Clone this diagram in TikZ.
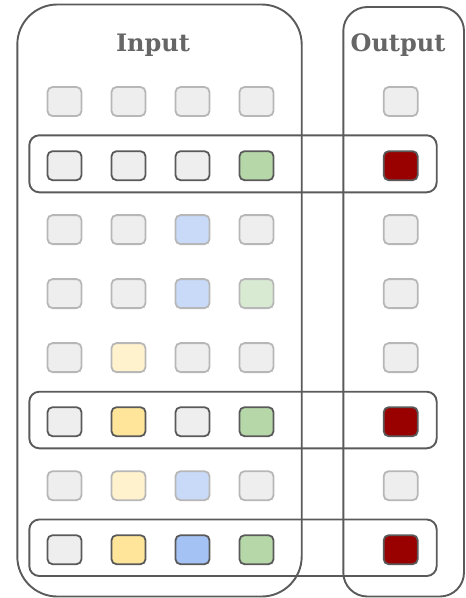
\documentclass[tikz,border=0pt]{standalone}
\usepackage{fontspec}
\newfontfamily\hfont{DejaVu Serif}
\definecolor{lg}{HTML}{EEEEEE}
\definecolor{lbl}{HTML}{C9DAF8}
\definecolor{lgr}{HTML}{D9EAD3}
\definecolor{lye}{HTML}{FFF2CC}
\definecolor{dgr}{HTML}{B6D7A8}
\definecolor{dye}{HTML}{FFE599}
\definecolor{dbl}{HTML}{A4C2F4}
\definecolor{dre}{HTML}{990000}
\definecolor{lbd}{HTML}{B7B7B7}
\definecolor{dbd}{HTML}{5A5A5A}
\definecolor{txt}{HTML}{666666}
\tikzset{
  cell/.style={rounded corners=5pt, minimum width=34pt, minimum height=29pt, line width=1.8pt, inner sep=0pt},
  faint/.style={cell, draw=lbd},
  bold/.style={cell, draw=dbd},
  frame/.style={draw=dbd, line width=1.9pt},
  title/.style={text=txt, font=\hfont\bfseries\fontsize{24}{28}\selectfont}
}
\begin{document}
\begin{tikzpicture}[x=1pt,y=-1pt]
\useasboundingbox (0,0) rectangle (466,598);
% frames
\draw[frame, rounded corners=40pt] (17.3,4.5) rectangle (301.7,596.5);
\draw[frame, rounded corners=24pt] (343.3,7) rectangle (464,596.5);
\draw[frame, rounded corners=10pt] (29.3,135.3) rectangle (436.7,192.3);
\draw[frame, rounded corners=10pt] (29.3,391.7) rectangle (436.7,448.3);
\draw[frame, rounded corners=10pt] (29.3,519.5) rectangle (436.7,576);
% titles
\node[title] (tin) at (153,45) {Input};
\node[title] (tout) at (398,45) {Output};
% row 1
\node[faint, fill=lg] (r1c1) at (64.5,101.5) {};
\node[faint, fill=lg] (r1c2) at (128.5,101.5) {};
\node[faint, fill=lg] (r1c3) at (192.5,101.5) {};
\node[faint, fill=lg] (r1c4) at (256.5,101.5) {};
\node[faint, fill=lg] (r1o) at (400.7,101.5) {};
% row 2
\node[bold, fill=lg] (r2c1) at (64.5,165.7) {};
\node[bold, fill=lg] (r2c2) at (128.5,165.7) {};
\node[bold, fill=lg] (r2c3) at (192.5,165.7) {};
\node[bold, fill=dgr] (r2c4) at (256.5,165.7) {};
\node[bold, fill=dre] (r2o) at (400.7,165.7) {};
% row 3
\node[faint, fill=lg] (r3c1) at (64.5,229.6) {};
\node[faint, fill=lg] (r3c2) at (128.5,229.6) {};
\node[faint, fill=lbl] (r3c3) at (192.5,229.6) {};
\node[faint, fill=lg] (r3c4) at (256.5,229.6) {};
\node[faint, fill=lg] (r3o) at (400.7,229.6) {};
% row 4
\node[faint, fill=lg] (r4c1) at (64.5,293.6) {};
\node[faint, fill=lg] (r4c2) at (128.5,293.6) {};
\node[faint, fill=lbl] (r4c3) at (192.5,293.6) {};
\node[faint, fill=lgr] (r4c4) at (256.5,293.6) {};
\node[faint, fill=lg] (r4o) at (400.7,293.6) {};
% row 5
\node[faint, fill=lg] (r5c1) at (64.5,357.6) {};
\node[faint, fill=lye] (r5c2) at (128.5,357.6) {};
\node[faint, fill=lg] (r5c3) at (192.5,357.6) {};
\node[faint, fill=lg] (r5c4) at (256.5,357.6) {};
\node[faint, fill=lg] (r5o) at (400.7,357.6) {};
% row 6
\node[bold, fill=lg] (r6c1) at (64.5,421.7) {};
\node[bold, fill=dye] (r6c2) at (128.5,421.7) {};
\node[bold, fill=lg] (r6c3) at (192.5,421.7) {};
\node[bold, fill=dgr] (r6c4) at (256.5,421.7) {};
\node[bold, fill=dre] (r6o) at (400.7,421.7) {};
% row 7
\node[faint, fill=lg] (r7c1) at (64.5,485.7) {};
\node[faint, fill=lye] (r7c2) at (128.5,485.7) {};
\node[faint, fill=lbl] (r7c3) at (192.5,485.7) {};
\node[faint, fill=lg] (r7c4) at (256.5,485.7) {};
\node[faint, fill=lg] (r7o) at (400.7,485.7) {};
% row 8
\node[bold, fill=lg] (r8c1) at (64.5,549.7) {};
\node[bold, fill=dye] (r8c2) at (128.5,549.7) {};
\node[bold, fill=dbl] (r8c3) at (192.5,549.7) {};
\node[bold, fill=dgr] (r8c4) at (256.5,549.7) {};
\node[bold, fill=dre] (r8o) at (400.7,549.7) {};
\end{tikzpicture}
\end{document}
